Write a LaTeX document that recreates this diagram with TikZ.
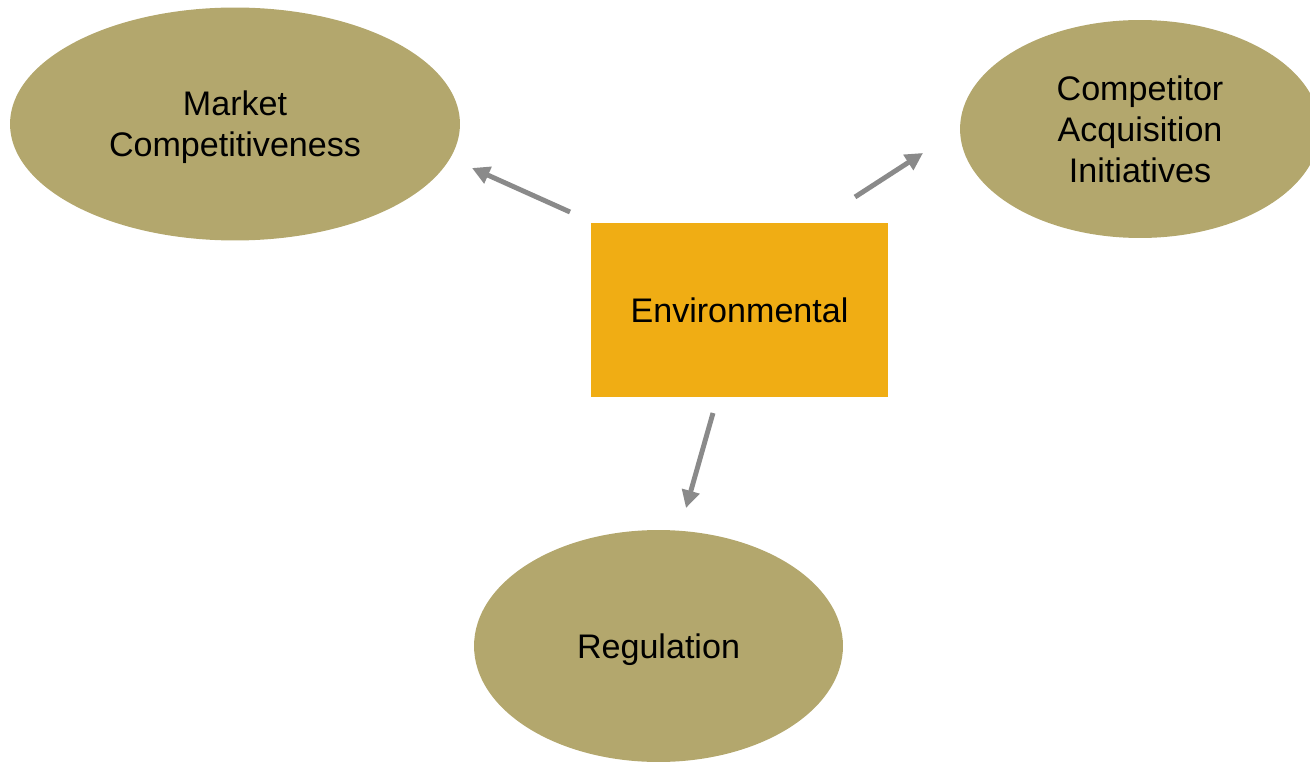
\documentclass[tikz,border=0pt]{standalone}
\usepackage{fontspec}
\setmainfont{Liberation Sans}
\usetikzlibrary{shapes.geometric,arrows.meta}

\definecolor{khaki}{HTML}{B3A76D}
\definecolor{amber}{HTML}{F0AD14}
\definecolor{arrowgray}{HTML}{8A8A8A}

\tikzset{
  factor/.style={ellipse, fill=khaki, inner sep=0pt, align=center, text depth=0pt,
                 font=\fontsize{19.4}{23.3}\selectfont},
  centrebox/.style={rectangle, fill=amber, inner sep=0pt,
                    minimum width=5.94cm, minimum height=3.47cm,
                    font=\fontsize{19.4}{23.3}\selectfont},
  pointer/.style={-{Triangle[length=10pt,width=10pt]}, line width=2.8pt, arrowgray}
}

\begin{document}
\begin{tikzpicture}[x=0.02cm, y=-0.02cm]

  \useasboundingbox (0,0) rectangle (1310,763);

  % centre and the three surrounding factors
  \node[centrebox] (env) at (739.5,310) {Environmental};
  \node[factor, minimum width=9cm, minimum height=4.66cm] (mkt) at (235,124) {Market\\Competitiveness};
  \node[factor, minimum width=7.2cm, minimum height=4.36cm] (comp) at (1140,129) {Competitor\\Acquisition\\Initiatives};
  \node[factor, minimum width=7.38cm, minimum height=4.64cm] (reg) at (658.5,646) {Regulation};

  % arrow ends
  \coordinate (mkt-from) at (570,212);
  \coordinate (mkt-to) at (472,168);
  \coordinate (comp-from) at (855,197);
  \coordinate (comp-to) at (923,153);
  \coordinate (reg-from) at (713,413);
  \coordinate (reg-to) at (686,508);

  \draw[pointer] (mkt-from) -- (mkt-to);
  \draw[pointer] (comp-from) -- (comp-to);
  \draw[pointer] (reg-from) -- (reg-to);

\end{tikzpicture}
\end{document}
